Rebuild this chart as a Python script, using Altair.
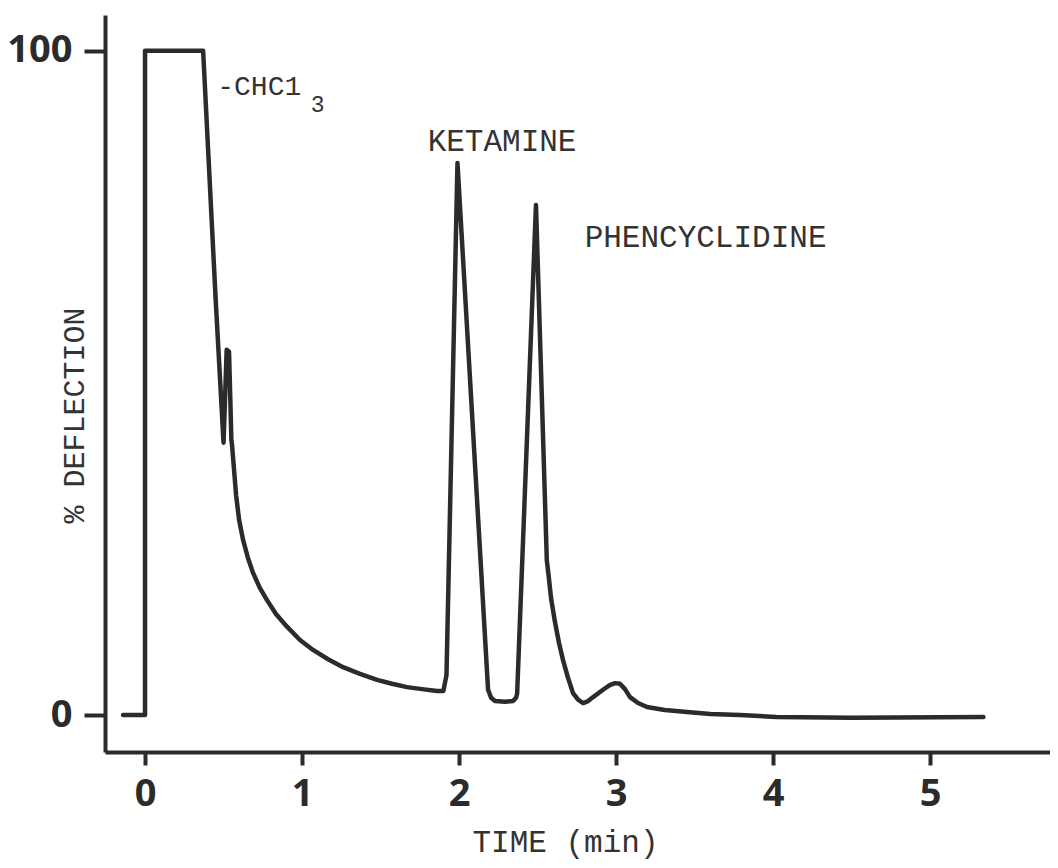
import altair as alt
import pandas as pd

# Chromatogram trace: time (min) vs % deflection
time_min = [-0.14, 0.0, 0.0, 0.37, 0.45, 0.50, 0.52, 0.535, 0.55,
            0.554, 0.567, 0.580, 0.599, 0.624, 0.656, 0.688, 0.732, 0.777, 0.834,
            0.904, 0.987, 1.070, 1.166, 1.261, 1.369, 1.478, 1.573, 1.669, 1.764,
            1.860, 1.90, 1.92, 1.99,
            2.185, 2.204, 2.229, 2.293, 2.344, 2.363, 2.37, 2.49,
            2.559, 2.570, 2.586, 2.611, 2.637, 2.662, 2.694, 2.726, 2.758, 2.790,
            2.822, 2.854, 2.917, 2.96, 2.994, 3.025, 3.057, 3.089, 3.14, 3.197,
            3.31, 3.452, 3.60, 3.79, 4.02, 4.50, 5.34]
deflection = [0.0, 0.0, 100.0, 100.0, 62.5, 41.0, 55.0, 54.7, 41.4,
              40.7, 36.9, 33.1, 29.4, 26.4, 23.6, 21.4, 19.1, 17.3, 15.2,
              13.3, 11.3, 9.8, 8.4, 7.2, 6.2, 5.3, 4.7, 4.2, 3.9,
              3.6, 3.6, 6.0, 83.1,
              3.8, 2.6, 2.1, 2.0, 2.1, 2.6, 3.2, 76.8,
              23.3, 21.1, 17.6, 14.0, 10.8, 8.3, 5.6, 3.3, 2.3, 1.8,
              2.1, 2.7, 3.8, 4.5, 4.8, 4.7, 3.9, 2.7, 1.8, 1.2,
              0.75, 0.45, 0.15, 0.0, -0.3, -0.4, -0.3]

# Peak annotations (anchored in data units)
peak_labels = ["KETAMINE", "PHENCYCLIDINE"]
peak_label_time = [1.80, 2.80]
peak_label_defl = [84.9, 70.5]

solvent_label = ["-CHC1"]
solvent_label_time = [0.46]
solvent_label_defl = [93.4]

solvent_sub = ["3"]
solvent_sub_time = [1.055]
solvent_sub_defl = [90.8]

x_ticks = [0, 1, 2, 3, 4, 5]
y_ticks = [0, 100]

INK = "#2b2b2b"
TEXT = "#333333"
MONO = "Liberation Mono"

trace = pd.DataFrame({"t": time_min, "d": deflection, "i": list(range(len(time_min)))})
peaks = pd.DataFrame({"t": peak_label_time, "d": peak_label_defl, "s": peak_labels})
solv = pd.DataFrame({"t": solvent_label_time, "d": solvent_label_defl, "s": solvent_label})
sub = pd.DataFrame({"t": solvent_sub_time, "d": solvent_sub_defl, "s": solvent_sub})

xscale = alt.Scale(domain=[-0.255, 5.764], nice=False, zero=False)
yscale = alt.Scale(domain=[-5.57, 105.4], nice=False, zero=False)

xaxis = alt.Axis(
    values=x_ticks, format="d", grid=False,
    domainColor=INK, domainWidth=4,
    tickColor=INK, tickWidth=4, tickSize=13,
    labelFont="Noto Sans", labelFontWeight="bold", labelFontSize=38,
    labelColor=INK, labelPadding=10, labelFlush=False, labelOverlap=False,
    title="TIME (min)", titleFont=MONO, titleFontSize=31, titleFontWeight="normal",
    titleColor=TEXT, titleX=460, titleY=99, titleAlign="center",
    titleBaseline="alphabetic",
)
yaxis = alt.Axis(
    values=y_ticks, format="d", grid=False,
    domainColor=INK, domainWidth=4,
    tickColor=INK, tickWidth=4, tickSize=21,
    labelFont="Noto Sans", labelFontWeight="bold", labelFontSize=38,
    labelColor=INK, labelPadding=12, labelFlush=False, labelOverlap=False,
    title="% DEFLECTION", titleFont=MONO, titleFontSize=30, titleFontWeight="normal",
    titleColor=TEXT, titleX=-22, titleY=400, titleAlign="center", titleAngle=270,
    titleBaseline="alphabetic",
)

line = alt.Chart(trace).mark_line(
    color=INK, strokeWidth=4.5, strokeJoin="round", strokeCap="round"
).encode(
    x=alt.X("t:Q", scale=xscale, axis=xaxis),
    y=alt.Y("d:Q", scale=yscale, axis=yaxis),
    order=alt.Order("i:Q"),
)

peak_text = alt.Chart(peaks).mark_text(
    font=MONO, fontSize=31, color=TEXT, align="left", baseline="alphabetic"
).encode(x=alt.X("t:Q", scale=xscale), y=alt.Y("d:Q", scale=yscale), text="s:N")

solv_text = alt.Chart(solv).mark_text(
    font=MONO, fontSize=28, color=TEXT, align="left", baseline="alphabetic"
).encode(x=alt.X("t:Q", scale=xscale), y=alt.Y("d:Q", scale=yscale), text="s:N")

sub_text = alt.Chart(sub).mark_text(
    font=MONO, fontSize=23, color=TEXT, align="left", baseline="alphabetic"
).encode(x=alt.X("t:Q", scale=xscale), y=alt.Y("d:Q", scale=yscale), text="s:N")

chart = alt.layer(line, peak_text, solv_text, sub_text).properties(
    width=945, height=737,
    autosize=alt.AutoSizeParams(type="none"),
    padding={"left": 97, "top": 7, "right": 0, "bottom": 108},
    background="white",
).configure_view(stroke=None)

chart.save("out.html", embed_options={"renderer": "svg", "actions": False})
